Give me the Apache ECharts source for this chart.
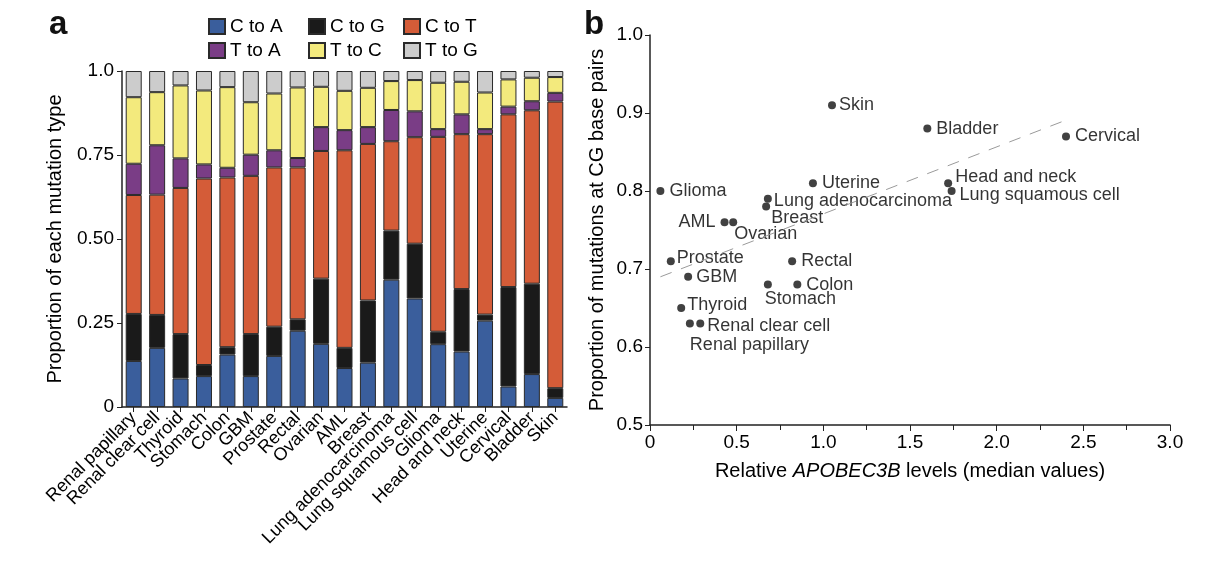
<!DOCTYPE html>
<html>
<head>
<meta charset="utf-8">
<script src="https://cdn.jsdelivr.net/npm/echarts@6/dist/echarts.min.js"></script>
<style>html,body{margin:0;padding:0;background:#fff}#c{width:1210px;height:562px}</style>
</head>
<body>
<div id="c"></div>
<script>
// ---- Panel a data ----
var categories = ['Renal papillary','Renal clear cell','Thyroid','Stomach','Colon','GBM','Prostate','Rectal','Ovarian','AML','Breast','Lung adenocarcinoma','Lung squamous cell','Glioma','Head and neck','Uterine','Cervical','Bladder','Skin'];
var seriesNames = ['C to A','C to G','C to T','T to A','T to C','T to G'];
var cToA = [0.137,0.176,0.085,0.092,0.156,0.092,0.152,0.227,0.188,0.116,0.132,0.379,0.323,0.187,0.165,0.257,0.061,0.098,0.027];
var cToG = [0.140,0.098,0.132,0.033,0.022,0.125,0.087,0.034,0.194,0.060,0.185,0.146,0.163,0.037,0.186,0.018,0.296,0.269,0.029];
var cToT = [0.354,0.358,0.435,0.555,0.505,0.471,0.474,0.452,0.380,0.588,0.466,0.266,0.317,0.580,0.461,0.537,0.514,0.516,0.853];
var tToA = [0.093,0.147,0.088,0.042,0.029,0.063,0.051,0.028,0.071,0.060,0.050,0.093,0.077,0.023,0.059,0.015,0.023,0.027,0.026];
var tToC = [0.198,0.158,0.217,0.220,0.240,0.156,0.169,0.210,0.120,0.117,0.117,0.086,0.093,0.138,0.097,0.109,0.081,0.070,0.047];
var tToG = [0.078,0.063,0.043,0.058,0.048,0.093,0.067,0.049,0.047,0.059,0.050,0.030,0.027,0.035,0.032,0.064,0.025,0.020,0.018];
var yTicksA = ['0','0.25','0.50','0.75','1.0'];

// ---- Panel b data ----
var tumorNames = ['Skin','Bladder','Cervical','Head and neck','Lung squamous cell','Uterine','Lung adenocarcinoma','Breast','AML','Ovarian','Glioma','Prostate','GBM','Rectal','Stomach','Colon','Thyroid','Renal clear cell','Renal papillary'];
var apobecLevels = [1.05,1.60,2.40,1.72,1.74,0.94,0.68,0.67,0.43,0.48,0.06,0.12,0.22,0.82,0.68,0.85,0.18,0.29,0.23];
var cgProportion = [0.91,0.88,0.87,0.81,0.80,0.81,0.79,0.78,0.76,0.76,0.80,0.71,0.69,0.71,0.68,0.68,0.65,0.63,0.63];
var trendLine = [[0.06,0.69],[2.39,0.89]];

// ---- styles ----
var FONT = 'Liberation Sans, Arial, Helvetica, sans-serif';
var TXT = '#000000';
var colors = ['#3a5e9c','#1a1a1a','#d45c38','#7a3d86','#f3ea7d','#cccccc'];
var labelLayout = {
  'Skin': {position:'right', distance:3},
  'Bladder': {position:'right', distance:5},
  'Cervical': {position:'right', distance:5},
  'Head and neck': {position:'right', distance:3, offset:[0,-6]},
  'Lung squamous cell': {position:'right', distance:4, offset:[0,4]},
  'Uterine': {position:'right', distance:5},
  'Lung adenocarcinoma': {position:'right', distance:2, offset:[0,2]},
  'Breast': {position:'right', distance:1, offset:[0,11]},
  'AML': {position:'left', distance:5},
  'Ovarian': {position:'right', distance:1, offset:[-4,12]},
  'Glioma': {position:'right', distance:5},
  'Prostate': {position:'right', distance:2, offset:[0,-3]},
  'GBM': {position:'right', distance:4},
  'Rectal': {position:'right', distance:5},
  'Stomach': {position:'right', distance:1, offset:[-8,14]},
  'Colon': {position:'right', distance:5},
  'Thyroid': {position:'right', distance:2, offset:[0,-3]},
  'Renal clear cell': {position:'right', distance:3, offset:[0,2]},
  'Renal papillary': {position:'right', distance:1, offset:[-5,21]}
};

var chart = echarts.init(document.getElementById('c'), null, {renderer:'canvas'});
var stackVals = [cToA,cToG,cToT,tToA,tToC,tToG];
var barSeries = seriesNames.map(function(n,i){
  return {
    name:n, type:'bar', stack:'mut', xAxisIndex:0, yAxisIndex:0,
    barWidth:16, data:stackVals[i],
    itemStyle:{color:colors[i], borderColor:'#2a2a2a', borderWidth:1},
    emphasis:{disabled:true}
  };
});

var legendPos = [[208,17],[308,17],[403,17],[208,41],[308,41],[403,41]];
var legends = seriesNames.map(function(n,i){
  return {data:[n], left:legendPos[i][0], top:legendPos[i][1], icon:'rect', itemWidth:16, itemHeight:15, itemGap:0,
    textStyle:{fontSize:19, color:TXT, fontFamily:FONT}, selectedMode:false, padding:0};
});

var scatterData = tumorNames.map(function(n,i){
  var l = labelLayout[n];
  return {name:n, value:[apobecLevels[i], cgProportion[i]], label:l};
});

var axisLineStyle = {color:'#222', width:1.5};

var option = {
  animation:false,
  textStyle:{fontFamily:FONT},
  legend:legends,
  grid:[
    {left:122, right:643, top:71, bottom:155},
    {left:650, right:40, top:35, bottom:137}
  ],
  xAxis:[
    {gridIndex:0, type:'category', data:categories,
      axisLine:{lineStyle:axisLineStyle},
      axisTick:{show:true, alignWithLabel:true, length:5, lineStyle:{color:'#222'}},
      axisLabel:{rotate:45, fontSize:18, color:TXT, fontFamily:FONT, margin:8, interval:0},
      splitLine:{show:false}},
    {gridIndex:1, type:'value', min:0, max:3, interval:0.5,
      name:'{n|Relative }{i|APOBEC3B}{n| levels (median values)}', nameLocation:'middle', nameGap:36,
      nameTextStyle:{rich:{n:{fontSize:20, color:TXT, fontFamily:FONT}, i:{fontSize:20, color:TXT, fontFamily:FONT, fontStyle:'italic'}}},
      axisLine:{lineStyle:axisLineStyle},
      axisTick:{show:true, length:6, lineStyle:{color:'#222'}},
      minorTick:{show:true, splitNumber:2, length:5, lineStyle:{color:'#222'}},
      axisLabel:{fontSize:19, color:TXT, fontFamily:FONT, margin:8,
        formatter:function(v){return v===0?'0':v.toFixed(1);}},
      splitLine:{show:false}}
  ],
  yAxis:[
    {gridIndex:0, type:'value', min:0, max:1, interval:0.25,
      name:'Proportion of each mutation type', nameLocation:'middle', nameGap:57,
      nameTextStyle:{fontSize:20, color:TXT, fontFamily:FONT},
      axisLine:{show:true, lineStyle:axisLineStyle},
      axisTick:{show:true, length:5, lineStyle:{color:'#222'}},
      axisLabel:{fontSize:19, color:TXT, fontFamily:FONT, margin:8,
        formatter:function(v){return yTicksA[Math.round(v*4)];}},
      splitLine:{show:false}},
    {gridIndex:1, type:'value', min:0.5, max:1.0, interval:0.1,
      name:'Proportion of mutations at CG base pairs', nameLocation:'middle', nameGap:43,
      nameTextStyle:{fontSize:20, color:TXT, fontFamily:FONT},
      axisLine:{show:true, lineStyle:axisLineStyle},
      axisTick:{show:true, length:5, lineStyle:{color:'#222'}},
      axisLabel:{fontSize:19, color:TXT, fontFamily:FONT, margin:7,
        formatter:function(v){return v.toFixed(1);}},
      splitLine:{show:false}}
  ],
  graphic:[
    {type:'text', left:49, top:8, style:{text:'a', font:'bold 33px '+FONT, fill:'#111'}},
    {type:'text', left:584, top:8, style:{text:'b', font:'bold 33px '+FONT, fill:'#111'}}
  ],
  series: barSeries.concat([
    {type:'line', xAxisIndex:1, yAxisIndex:1, data:trendLine, symbol:'none',
      lineStyle:{color:'#9a9a9a', width:1, type:[12,10]}, silent:true},
    {type:'scatter', xAxisIndex:1, yAxisIndex:1, data:scatterData, symbolSize:8,
      itemStyle:{color:'#111'},
      label:{show:true, formatter:'{b}', fontSize:18, color:TXT, fontFamily:FONT},
      emphasis:{disabled:true}}
  ])
};
chart.setOption(option);
</script>
</body>
</html>
